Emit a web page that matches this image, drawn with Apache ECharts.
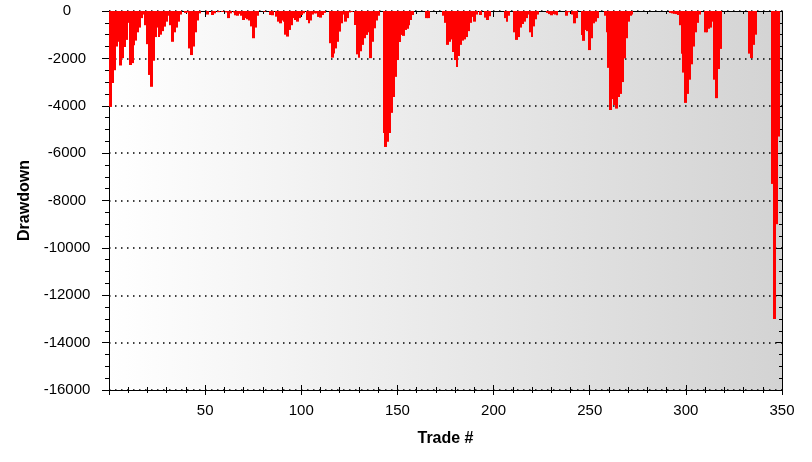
<!DOCTYPE html>
<html><head><meta charset="utf-8">
<script src="https://cdn.jsdelivr.net/npm/echarts@6/dist/echarts.min.js"></script>
<style>html,body{margin:0;padding:0;background:#fff}#c{width:812px;height:462px}</style>
</head><body><div id="c"></div>
<script>
// Drawdown per trade (trade 1 .. 348)
const ddTrades1to50 = [-4050,-3040,-2500,-1500,-1300,-2300,-1990,-1520,-1220,-500,
  -2280,-2200,-1450,-1250,-900,-700,-300,-150,-600,-1400,
  -2700,-3200,-2100,-1100,-700,-1100,-1000,-850,-660,-450,
  -200,-600,-1300,-900,-700,-450,-150,0,0,-80,
  -60,-1580,-1860,-1500,-900,-400,-100,0,0,0];
const ddTrades51to100 = [-150,0,0,-170,-100,0,-50,0,-40,0,
  -60,-300,-100,0,-60,-180,-200,-120,-200,-380,
  -300,-350,-400,-650,-1150,-700,-200,0,0,0,
  -30,0,0,-170,-180,0,-240,-450,-520,-400,
  -450,-1000,-1080,-800,-600,-300,-380,-450,-300,-170];
const ddTrades101to150 = [-100,0,-380,-520,-400,-150,-100,-100,-250,-280,
  -170,-80,0,0,-1360,-1970,-1790,-1580,-1300,-870,
  -520,-150,-450,-300,-60,-40,0,-590,-1830,-1970,
  -1700,-1430,-1150,-1010,-900,-1990,-1300,-730,-400,-200,
  0,0,-5150,-5740,-5520,-5150,-4300,-3630,-2780,-2070];
const ddTrades151to200 = [-1310,-1010,-1050,-800,-750,-600,-380,-170,0,0,
  0,0,0,0,-300,-300,0,0,0,0,
  0,0,0,-200,-500,-1430,-1300,-1200,-1730,-2070,
  -2360,-1900,-1430,-1250,-1200,-1100,-850,-500,-250,-450,
  -150,0,-170,0,0,-280,-380,-220,0,0];
const ddTrades201to250 = [0,0,0,0,0,-300,-450,-200,0,0,
  -900,-1220,-1100,-700,-550,-450,-300,-150,-900,-1100,
  -650,-350,-150,0,0,0,0,-80,-130,-180,
  -130,-150,-180,0,0,0,0,-200,-50,0,
  -150,-520,-300,0,0,-1010,-1260,-800,-850,-1650];
const ddTrades251to300 = [-1150,-520,-450,-300,0,0,0,-200,-900,-2400,
  -4180,-3720,-3970,-4120,-3630,-3500,-3000,-2000,-1150,-450,
  -200,-150,0,0,0,0,0,0,0,0,
  0,0,0,0,0,0,0,0,0,0,
  0,-80,-100,-120,-130,-170,-600,-1800,-2600,-3880];
const ddTrades301to348 = [-3500,-2900,-2250,-1500,-900,-500,-150,0,0,-900,
  -900,-750,-700,-450,-2900,-3680,-2450,-1600,0,0,
  0,0,0,0,0,0,0,0,0,0,
  0,0,-1800,-1990,-1430,-1000,0,0,0,0,
  0,0,0,0,-7300,-13000,-9000,-5300];

const drawdown = [].concat(ddTrades1to50, ddTrades51to100, ddTrades101to150,
  ddTrades151to200, ddTrades201to250, ddTrades251to300, ddTrades301to348);
const tradeNumbers = drawdown.map((v, i) => i + 1);

const xMin = 0, xMax = 350, xInterval = 50;
const yMin = -16000, yMax = 0, yInterval = 2000;

const font = "'Liberation Sans', Arial, sans-serif";
const black = '#000';
const red = '#ff0000';

const chart = echarts.init(document.getElementById('c'), null, {renderer: 'canvas'});
const baseX = {
  type: 'value', min: xMin, max: xMax, interval: xInterval,
  splitLine: {show: false}
};
const baseY = {
  type: 'value', min: yMin, max: yMax, interval: yInterval
};

// one column per trade, spanning its slot (trade - 0.5 .. trade + 0.5) on the axis scale,
// widened slightly so neighbouring columns overlap and leave no seam
function renderColumn(params, api) {
  const t = api.value(0), v = api.value(1);
  if (!v) return null;
  const p0 = api.coord([t - 0.5, 0]);
  const p1 = api.coord([t + 0.5, v]);
  const x0 = Math.floor(p0[0]);
  const x1 = Math.ceil(p1[0]);
  return {
    type: 'rect',
    shape: {x: x0, y: p0[1], width: x1 - x0, height: p1[1] - p0[1]},
    style: {fill: red, stroke: null, lineWidth: 0}
  };
}

const option = {
  animation: false,
  backgroundColor: '#fff',
  grid: {
    left: 109, right: 30, top: 11, bottom: 72,
    show: true, borderWidth: 0,
    backgroundColor: {
      type: 'linear', x: 0, y: 0, x2: 1, y2: 0,
      colorStops: [{offset: 0, color: '#ffffff'}, {offset: 1, color: '#d3d3d3'}]
    }
  },
  xAxis: [
    Object.assign({}, baseX, {
      position: 'bottom',
      axisLine: {show: true, onZero: false, lineStyle: {color: black, width: 1}},
      axisTick: {show: true, inside: false, length: 5, lineStyle: {color: black}},
      minorTick: {show: true, splitNumber: 5, length: 3, lineStyle: {color: black}},
      axisLabel: {show: true, margin: 13, color: black, fontSize: 15, fontFamily: font,
        formatter: v => (v === 0 ? '' : String(v))},
      name: 'Trade #', nameLocation: 'middle', nameGap: 41,
      nameTextStyle: {color: black, fontSize: 16, fontWeight: 'bold', fontFamily: font}
    }),
    Object.assign({}, baseX, {
      position: 'bottom', offset: 0,
      axisLine: {show: false, onZero: false},
      axisTick: {show: true, inside: true, length: 5, lineStyle: {color: black}},
      minorTick: {show: true, splitNumber: 5, length: 3, lineStyle: {color: black}},
      axisLabel: {show: false}
    }),
    Object.assign({}, baseX, {
      position: 'top',
      axisLine: {show: true, onZero: false, lineStyle: {color: black, width: 1}},
      axisTick: {show: true, inside: true, length: 6, lineStyle: {color: black}},
      minorTick: {show: true, splitNumber: 5, length: 3, lineStyle: {color: black}},
      axisLabel: {show: false}
    })
  ],
  yAxis: [
    Object.assign({}, baseY, {
      position: 'left',
      axisLine: {show: true, onZero: false, lineStyle: {color: black, width: 1}},
      axisTick: {show: true, inside: false, length: 7, lineStyle: {color: black}},
      minorTick: {show: true, splitNumber: 4, length: 4, lineStyle: {color: black}},
      splitLine: {show: true, lineStyle: {color: black, width: 1.5, type: [1.5, 4.5]}},
      axisLabel: {show: true, margin: 42, align: 'center', color: black, fontSize: 15, fontFamily: font,
        formatter: v => String(v)},
      name: 'Drawdown', nameLocation: 'middle', nameGap: 74,
      nameTextStyle: {color: black, fontSize: 16, fontWeight: 'bold', fontFamily: font}
    }),
    Object.assign({}, baseY, {
      position: 'right',
      axisLine: {show: true, onZero: false, lineStyle: {color: black, width: 1}},
      axisTick: {show: true, inside: true, length: 6, lineStyle: {color: black}},
      minorTick: {show: true, splitNumber: 4, length: 3, lineStyle: {color: black}},
      splitLine: {show: false},
      axisLabel: {show: false}
    })
  ],
  series: [{
    type: 'custom', xAxisIndex: 0, yAxisIndex: 0,
    data: tradeNumbers.map((t, i) => [t, drawdown[i]]),
    encode: {x: 0, y: 1},
    renderItem: renderColumn
  }]
};
chart.setOption(option);
</script></body></html>
